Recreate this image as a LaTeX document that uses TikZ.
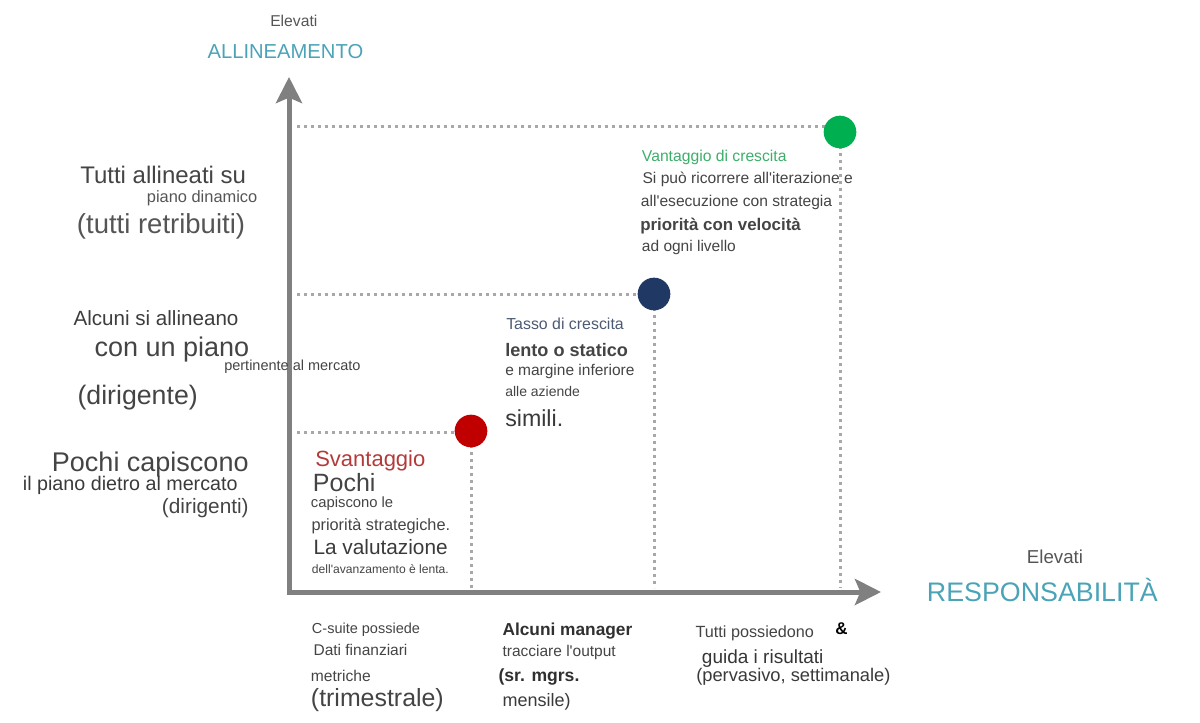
\documentclass[tikz,border=0pt]{standalone}
\usepackage{fontspec}
\setmainfont{Liberation Sans}
\usetikzlibrary{arrows.meta}
\definecolor{textgray}{HTML}{444444}
\definecolor{smallgray}{HTML}{555555}
\definecolor{teal}{HTML}{4BA3B7}
\definecolor{axisgray}{HTML}{808080}
\definecolor{dotgray}{HTML}{A8A8A8}
\definecolor{redtext}{HTML}{B43A3A}
\definecolor{greentext}{HTML}{3DAE6A}
\definecolor{slate}{HTML}{4D5A73}
\definecolor{cgreen}{HTML}{00B050}
\definecolor{cblue}{HTML}{1F3864}
\definecolor{cred}{HTML}{C00000}
\newcommand\fpx[1]{\fontsize{\fpeval{#1*0.75}}{\fpeval{#1*0.9}}\selectfont}
\newcommand\ap{\textquotesingle}
\tikzset{
  lbl/.style={anchor=base west, inner sep=0pt, text=textgray},
  axisline/.style={draw=axisgray, line width=3.75pt, {Stealth[length=19.5pt,width=19.5pt,inset=4pt]}-{Stealth[length=19.5pt,width=19.5pt,inset=4pt]}},
  dotline/.style={draw=dotgray, line width=2.25pt, dash pattern=on 2.25pt off 3pt},
  dotc/.style={circle, minimum size=24.5pt, inner sep=0pt, draw=none}
}
\begin{document}
\begin{tikzpicture}[x=0.75pt,y=-0.75pt]
\useasboundingbox (0,0) rectangle (1200,722);
% axes
\coordinate (O) at (289,592);
\coordinate (ytip) at (289,77);
\coordinate (xtip) at (881,592);
\draw[axisline] (ytip) -- (O) -- (xtip);
% circle centres and dotted guides
\coordinate (gc) at (840,132);
\coordinate (bc) at (654,294);
\coordinate (rc) at (471,431);
\coordinate (gL) at (297,126);
\coordinate (gR) at (840,126);
\coordinate (gB) at (840,588);
\coordinate (bL) at (297,294);
\coordinate (bB) at (654,588);
\coordinate (rL) at (297,432.5);
\coordinate (rR) at (471,432.5);
\coordinate (rB) at (471,588);
\draw[dotline] (gL) -- (gR);
\draw[dotline] (gc) -- (gB);
\draw[dotline] (bL) -- (bc);
\draw[dotline] (bc) -- (bB);
\draw[dotline] (rL) -- (rR);
\draw[dotline] (rc) -- (rB);
\node[dotc, fill=cgreen] (g) at (gc) {};
\node[dotc, fill=cblue] (b) at (bc) {};
\node[dotc, fill=cred] (r) at (rc) {};
% axis titles
\node[lbl, text=smallgray, font=\fpx{15.7}] (ye) at (270,26) {Elevati};
\node[lbl, text=teal, font=\fpx{20.2}] (yt) at (207.3,58.7) {ALLINEAMENTO};
\node[lbl, text=smallgray, font=\fpx{18.7}] (xe) at (1026.7,563.3) {Elevati};
\node[lbl, text=teal, font=\fpx{26.8}] (xt) at (926.7,601) {RESPONSABILITÀ};
% left labels
\node[lbl, font=\fpx{24}] (l1) at (80,183.3) {Tutti allineati su};
\node[lbl, text=smallgray, font=\fpx{16.4}] (l2) at (146.7,202.7) {piano dinamico};
\node[lbl, text=smallgray, font=\fpx{27.5}] (l3) at (76.7,233.3) {(tutti retribuiti)};
\node[lbl, text=textgray!90!black, font=\fpx{20.6}] (l4) at (73.3,325) {Alcuni si allineano};
\node[lbl, font=\fpx{27}] (l5) at (94.3,356.7) {con un piano};
\node[lbl, font=\fpx{14.5}] (l6) at (224,370) {pertinente al mercato};
\node[lbl, font=\fpx{26.7}] (l7) at (77.3,404) {(dirigente)};
\node[lbl, font=\fpx{27}] (l8) at (51.7,471) {Pochi capiscono};
\node[lbl, text=textgray!85!black, font=\fpx{19.7}] (l9) at (22.7,490) {il piano dietro al mercato};
\node[lbl, font=\fpx{20.8}] (l10) at (161.7,513.3) {(dirigenti)};
% red block
\node[lbl, text=redtext, font=\fpx{22}] (r1) at (315,466) {Svantaggio};
\node[lbl, font=\fpx{25}] (r2) at (312.7,491.5) {Pochi};
\node[lbl, font=\fpx{14.8}] (r3) at (310.7,507) {capiscono le};
\node[lbl, font=\fpx{16.3}] (r4) at (311.3,530.7) {priorità strategiche.};
\node[lbl, text=textgray!85!black, font=\fpx{20.8}] (r5) at (313.3,554) {La valutazione};
\node[lbl, font=\fpx{12.1}] (r6) at (311.7,573.3) {dell\ap avanzamento è lenta.};
% blue block
\node[lbl, text=slate, font=\fpx{15.9}] (b1) at (506,329.3) {Tasso di crescita};
\node[lbl, font=\bfseries\fpx{18.1}] (b2) at (505,356) {lento o statico};
\node[lbl, font=\fpx{15.5}] (b3) at (505,375.3) {e margine inferiore};
\node[lbl, font=\fpx{14}] (b4) at (505,396.7) {alle aziende};
\node[lbl, text=textgray!85!black, font=\fpx{23.2}] (b5) at (505,426.7) {simili.};
% green block
\node[lbl, text=greentext, font=\fpx{15.7}] (g1) at (641.7,161.7) {Vantaggio di crescita};
\node[lbl, font=\fpx{15.6}] (g2) at (642.3,183.3) {Si può ricorrere all\ap iterazione e};
\node[lbl, font=\fpx{15.6}] (g3) at (640.7,206) {all\ap esecuzione con strategia};
\node[lbl, font=\bfseries\fpx{16.9}] (g4) at (640,230.7) {priorità con velocità};
\node[lbl, font=\fpx{15.5}] (g5) at (641.7,251.7) {ad ogni livello};
% bottom labels
\node[lbl, font=\fpx{14.5}] (c1) at (311.7,633.3) {C-suite possiede};
\node[lbl, font=\fpx{15.5}] (c2) at (313.3,655) {Dati finanziari};
\node[lbl, font=\fpx{15.6}] (c3) at (310.7,681) {metriche};
\node[lbl, font=\fpx{24.9}] (c4) at (310.7,706.7) {(trimestrale)};
\node[lbl, text=textgray!70!black, font=\bfseries\fpx{17.3}] (m1) at (502.3,635) {Alcuni manager};
\node[lbl, font=\fpx{15.5}] (m2) at (502.3,656) {tracciare l\ap output};
\node[lbl, text=textgray!70!black, font=\bfseries\fpx{17.6}] (m3) at (498.3,681) {(sr. mgrs.};
\node[lbl, text=textgray!85!black, font=\fpx{18}] (m4) at (502.3,706) {mensile)};
\node[lbl, font=\fpx{16.2}] (t1) at (695.4,637.3) {Tutti possiedono};
\node[lbl, text=black, font=\bfseries\fpx{17}] (t2) at (835,634) {\&};
\node[lbl, text=textgray!80!black, font=\fpx{19}] (t3) at (701.7,663.3) {guida i risultati};
\node[lbl, text=textgray!85!black, font=\fpx{18.3}] (t4) at (696,681) {(pervasivo, settimanale)};
\end{tikzpicture}
\end{document}
